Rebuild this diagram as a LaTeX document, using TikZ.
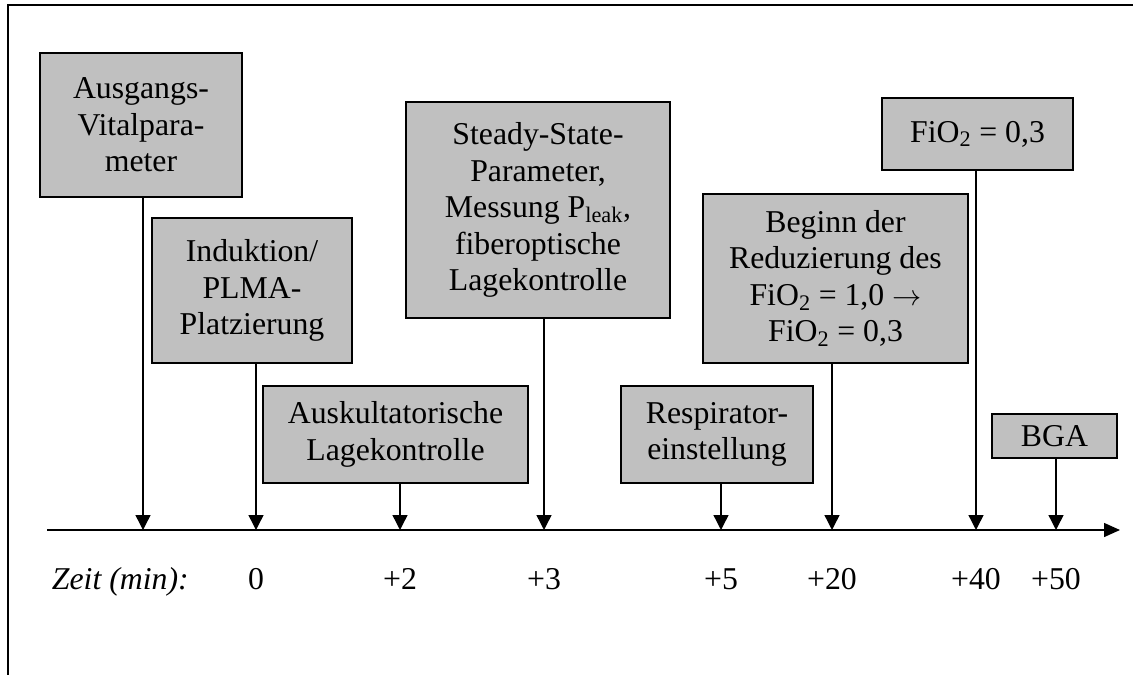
\documentclass[tikz,border=0pt]{standalone}
\usepackage{fontspec}
\setmainfont{Liberation Serif}
\usetikzlibrary{arrows.meta}
\definecolor{boxGray}{RGB}{192,192,192}

\begin{document}
\begin{tikzpicture}[font=\fontsize{22.6}{26}\selectfont,
  phase/.style={draw=black, line width=1.4pt, fill=boxGray, align=center, inner sep=0pt},
  down/.style={line width=1pt, -{Triangle[length=0.375cm, width=0.375cm]}}]
\useasboundingbox (0,0) rectangle (28.325,16.875);
\draw[line width=1.4pt] (28.325,16.75) -- (0.2,16.75) -- (0.2,0);

\node[phase, minimum width=5.05cm, minimum height=3.6cm] (vitalBox) at (3.525,13.75) {Ausgangs-\\Vitalpara-\\meter};
\node[phase, minimum width=5cm, minimum height=3.625cm] (induktionBox) at (6.3,9.6125) {Induktion/\\PLMA-\\Platzierung};
\node[phase, minimum width=6.625cm, minimum height=2.425cm] (auskultBox) at (9.8875,6.0125) {Auskultatorische\\Lagekontrolle};
\node[phase, minimum width=6.6cm, minimum height=5.4cm] (steadyBox) at (13.45,11.625) {Steady-State-\\Parameter,\\Messung P\textsubscript{leak},\\fiberoptische\\Lagekontrolle};
\node[phase, minimum width=4.8cm, minimum height=2.425cm] (respiratorBox) at (17.925,6.0125) {Respirator-\\einstellung};
\node[phase, minimum width=6.625cm, minimum height=4.225cm] (reduzBox) at (20.8875,9.9125) {Beginn der\\Reduzierung des\\FiO\textsubscript{2} = 1,0 $\rightarrow$\\FiO\textsubscript{2} = 0,3};
\node[phase, minimum width=4.775cm, minimum height=1.8cm] (fioBox) at (24.4375,13.525) {FiO\textsubscript{2} = 0,3};
\node[phase, minimum width=3.125cm, minimum height=1.1cm] (bgaBox) at (26.3625,5.975) {BGA};

% time axis
\draw[line width=1pt, -{Triangle[length=0.4cm, width=0.35cm]}] (1.175,3.625) -- (28.0,3.625);
\coordinate (tStart) at (3.575,3.625);
\coordinate (t0) at (6.4,3.625);
\coordinate (t2) at (10.0,3.625);
\coordinate (t3) at (13.6,3.625);
\coordinate (t5) at (18.025,3.625);
\coordinate (t20) at (20.8,3.625);
\coordinate (t40) at (24.4,3.625);
\coordinate (t50) at (26.4,3.625);

\draw[down] (vitalBox.south -| tStart) -- (tStart);
\draw[down] (induktionBox.south -| t0) -- (t0);
\draw[down] (auskultBox.south -| t2) -- (t2);
\draw[down] (steadyBox.south -| t3) -- (t3);
\draw[down] (respiratorBox.south -| t5) -- (t5);
\draw[down] (reduzBox.south -| t20) -- (t20);
\draw[down] (fioBox.south -| t40) -- (t40);
\draw[down] (bgaBox.south -| t50) -- (t50);

\node[anchor=base west] (zeitLabel) at (1.175,2.15) {\itshape Zeit (min):};
\node[anchor=base] (l0) at (6.4,2.15) {0};
\node[anchor=base] (l2) at (10.0,2.15) {+2};
\node[anchor=base] (l3) at (13.6,2.15) {+3};
\node[anchor=base] (l5) at (18.025,2.15) {+5};
\node[anchor=base] (l20) at (20.8,2.15) {+20};
\node[anchor=base] (l40) at (24.4,2.15) {+40};
\node[anchor=base] (l50) at (26.4,2.15) {+50};

\end{tikzpicture}
\end{document}
